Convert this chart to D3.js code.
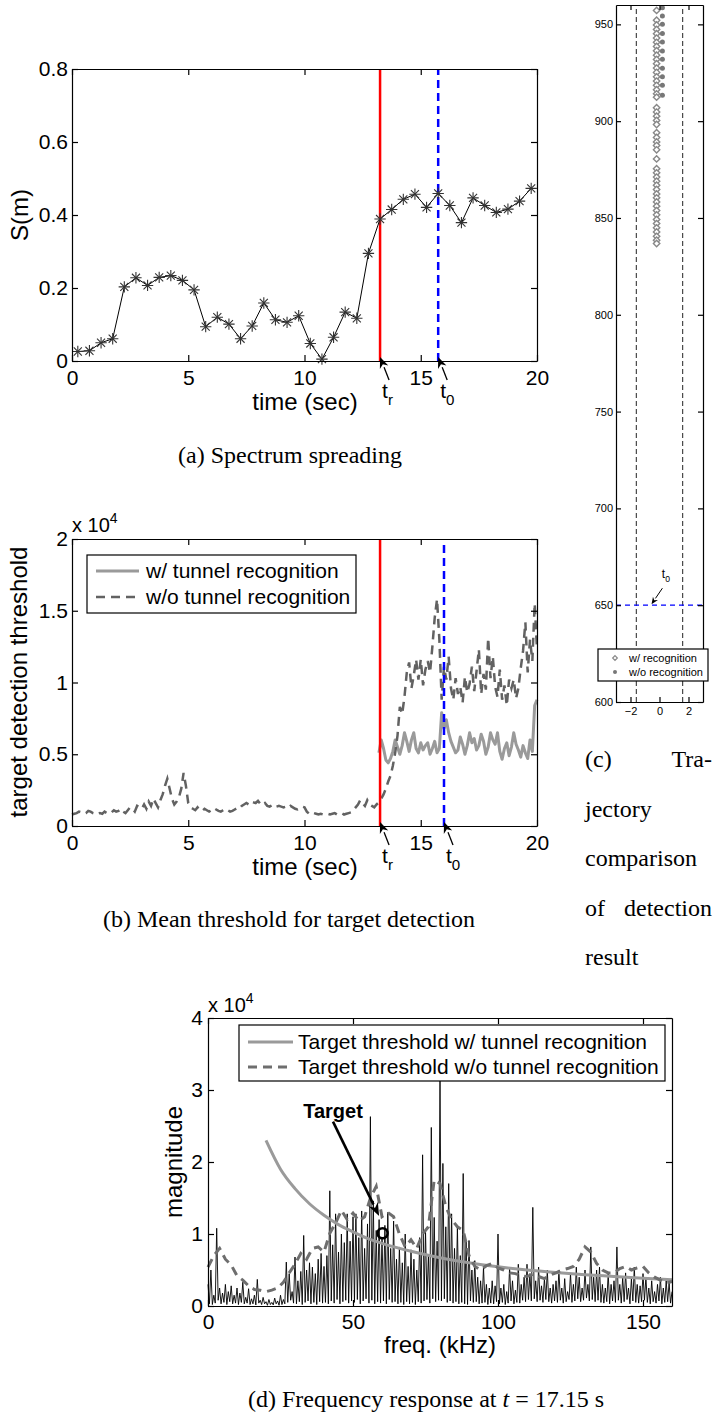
<!DOCTYPE html>
<html>
<head>
<meta charset="utf-8">
<script src="https://cdn.jsdelivr.net/npm/d3@7"></script>
<style>
  body { margin: 0; background: #fff; }
  svg { display: block; }
</style>
</head>
<body>
<div id="container"></div>
<script>
// ---------- data ----------
// (a) spectrum spreading, one sample every 0.5 s starting at 0.25 s
const aTimeStart = 0.25, aTimeStep = 0.5;
const aSpread = [0.026,0.028,0.050,0.061,0.203,0.228,0.207,0.229,0.234,0.221,
                 0.195,0.094,0.120,0.101,0.061,0.096,0.159,0.113,0.106,0.124,
                 0.048,0.005,0.065,0.134,0.117,0.295,0.389,0.415,0.443,0.457,
                 0.421,0.459,0.426,0.379,0.447,0.426,0.407,0.416,0.438,0.473];
const tRecog = 13.25;   // t_r
const tZeroA = 15.75;   // t_0 in (a)
const tZeroB = 16.0;    // t_0 in (b)

// (b) mean threshold, 0.1 s samples
const bStep = 0.1;
const bWithoutStart = 0;
const bWithout = [800,850,900,1000,950,850,900,1050,1000,900,850,
  800,900,850,1000,900,850,950,1100,1000,1050,
  1200,1000,900,1100,1300,1200,1000,1400,1300,1200,
  1500,1200,1700,1400,1900,1600,1300,1800,2200,2800,
  3300,2600,1900,1500,1700,2000,2600,3700,2800,1600,
  1300,1200,1100,1300,1100,1050,1200,1100,1000,1100,
  1250,1150,1050,1000,1100,1200,1100,1000,1050,1150,
  1250,1200,1400,1500,1600,1500,1700,1650,1600,1750,
  1550,1450,1600,1400,1350,1450,1300,1350,1400,1350,
  1300,1350,1250,1400,1300,1200,1150,1250,1350,1300,
  1000,850,800,900,850,800,850,800,800,850,
  800,850,900,800,850,900,800,850,900,950,
  1100,1300,1500,1800,1600,1400,1800,1500,1400,1300,
  1500,1650,1900,2200,2600,3100,3500,4200,5100,6300,
  8300,7800,9000,10700,11400,9600,10500,11600,10200,11600,
  9800,10900,11500,10700,12500,14500,15800,13000,8800,11100,
  10200,11800,9600,8800,10300,9200,9700,8600,10400,9300,
  9900,11100,9400,10800,12300,9200,10600,9500,13100,10300,
  11800,9700,9000,10900,8800,9800,8400,10200,9600,10200,
  8900,9600,11000,12200,14200,10700,13000,11500,15500,12300];
const bWithStart = 13.2;
const bWith = [5100,6000,5400,4600,4400,4700,5200,6000,5500,5000,
  5600,6500,5900,5200,6000,6500,5400,5100,5800,5300,
  5600,5800,5000,5400,5900,5100,5400,7900,6800,7400,
  6500,5900,5500,5100,5300,6200,5700,5000,5600,6500,
  5800,6100,5300,5600,6400,5900,5000,5500,6500,6000,
  5700,6500,5200,4650,5400,5800,4900,5500,6500,5700,
  5300,4800,5600,5100,4700,6000,5200,8400,8800];
const bLegend = ["w/ tunnel recognition", "w/o tunnel recognition"];

// (c) trajectory
const cWith = [957.2,952.1,949.7,947.4,945.2,942.9,940.7,938.6,936.4,934.1,
  931.9,929.7,927.4,925.2,922.9,920.7,918.5,916.2,914.1,912.4,
  906.9,904.7,902.6,900.4,898.3,894.0,891.6,889.3,887.4,885.2,
  880.5,875.4,873.3,871.1,869.0,866.9,864.7,862.4,860.4,858.3,
  856.1,853.8,851.6,849.2,847.1,844.9,842.8,840.5,838.5,836.8];
const cWithout = [958.6,954.3,950.0,945.3,940.9,936.3,932.0,927.3,923.0,918.5,913.4];
const cWithX = -0.2, cWithoutX = 0.2;
const cBounds = [-1.6, 1.6];
const cZero = 650;
const cLegend = ["w/ recognition", "w/o recognition"];

// (d) frequency response, spectrum peaks every 1 kHz and troughs in between
const dPeaks = [3000,5000,1500,10800,2500,1800,3000,2000,2800,1500,
  2500,1800,3300,1200,2400,1000,1500,3700,800,1200,
  600,900,500,1100,700,1500,900,6100,4500,2000,
  6800,3500,4800,9800,5000,6000,5400,4500,6500,7300,
  5500,7000,16000,8500,12800,7500,10000,8800,12800,9000,
  12400,12800,9500,13200,8000,11400,26300,14600,10500,12000,
  9500,11200,13000,8000,11800,6500,8200,6000,10000,5500,
  7800,6500,5000,9500,21000,10500,7000,24800,12300,9000,
  32000,19800,11000,17000,12800,8000,11000,7000,18400,9000,
  9100,5000,6300,4000,3500,5400,3000,2500,3500,2800,
  10000,2500,3000,2000,5400,3500,2200,5800,3000,4000,
  5800,4500,13700,3500,5400,2800,3800,5000,2500,3000,
  3500,5000,2500,3800,2000,4500,3000,5400,4000,2500,
  5000,3000,8200,4000,5000,5400,3000,2500,4500,3000,
  3500,8200,3000,4000,4600,2500,3800,5400,3000,2800,
  4500,4000,2500,3500,2000,3000,4000,2500,3500,3200,
  2000];
const dTroughs = [300,200,400,800,300,500,200,600,300,400,
  200,500,300,400,200,300,150,400,200,300,
  100,200,150,300,100,200,300,500,800,400,
  300,600,200,500,700,300,500,200,600,400,
  500,300,700,400,900,300,600,800,400,700,
  500,900,300,700,1000,400,800,300,600,400,
  700,300,900,500,600,300,500,200,600,300,
  500,200,600,400,700,900,400,1000,600,800,
  700,1000,500,700,400,600,300,500,300,200,
  700,500,600,300,400,500,200,400,300,600,
  300,500,200,400,700,300,500,400,800,600,
  900,700,1000,600,800,500,900,600,400,700,
  500,800,400,600,900,500,700,1000,600,800,
  1100,700,900,600,800,500,400,600,300,700,
  500,800,400,600,900,300,700,500,400,600,
  800,500,300,600,400,700,300,500,600,400];
const dWithF = [20,25,30,35,40,45,50,55,60,70,80,90,100,110,120,130,140,150,160];
const dWith = [23000,19000,16300,14200,12600,11300,10300,9400,8700,7600,6700,6000,5450,5000,4650,4350,4100,3850,3650];
const dWithoutStep = 2;
const dWithout = [5400,7000,8000,6500,5700,4200,3600,2800,2300,2200,
  2000,2200,2500,3300,4600,5800,7300,6500,8000,8200,
  7500,10100,11500,13300,12000,12900,11800,12400,15000,16600,
  12400,13000,12400,10000,8200,9200,8000,10000,11000,17500,
  17000,13800,12000,11000,10500,7000,5500,5000,5600,5900,
  5300,5000,4600,4500,4200,4100,4400,4100,3800,4300,
  4600,5000,5200,5500,6500,8200,7500,5900,5000,4600,
  4600,5200,5500,5000,5300,5500,4600,4000,3600,3200,
  3400];
const dTarget = [60.2, 10100];
const dArrow = [[43.1, 25600], [59.0, 12500]];
const dLabelPos = [43.1, 26100];
const dLegend = ["Target threshold w/ tunnel recognition", "Target threshold w/o tunnel recognition"];

// ---------- setup ----------
const sans = "'Liberation Sans', Arial, Helvetica, sans-serif";
const serif = "'Liberation Serif', 'Times New Roman', serif";
const svg = d3.select("#container").append("svg")
  .attr("width", 713).attr("height", 1415);
svg.append("rect").attr("width", 713).attr("height", 1415).attr("fill", "#fff");

const gray1 = "#9a9a9a", gray2 = "#626262";

function frame(x, y, xt, yt, fx, fy, fs, tick, padX, padY) {
  const [b, t] = y.range(), [l, r] = x.range();
  const gs = [
    svg.append("g").attr("transform", `translate(0,${b})`)
      .call(d3.axisBottom(x).tickValues(xt).tickFormat(fx).tickSize(-tick).tickSizeOuter(0).tickPadding(padX)),
    svg.append("g").attr("transform", `translate(0,${t})`)
      .call(d3.axisTop(x).tickValues(xt).tickFormat("").tickSize(-tick).tickSizeOuter(0)),
    svg.append("g").attr("transform", `translate(${l},0)`)
      .call(d3.axisLeft(y).tickValues(yt).tickFormat(fy).tickSize(-tick).tickSizeOuter(0).tickPadding(padY)),
    svg.append("g").attr("transform", `translate(${r},0)`)
      .call(d3.axisRight(y).tickValues(yt).tickFormat("").tickSize(-tick).tickSizeOuter(0))
  ];
  gs.forEach(g => {
    g.attr("font-family", sans).attr("font-size", fs);
    g.selectAll("path, line").attr("stroke", "#000").attr("stroke-width", 1.2);
    g.selectAll("text").attr("fill", "#000");
  });
}

function arrow(x1, y1, x2, y2, hl, hw, sw) {
  const a = Math.atan2(y2 - y1, x2 - x1);
  const bx = x2 - hl * Math.cos(a), by = y2 - hl * Math.sin(a);
  svg.append("line").attr("x1", x1).attr("y1", y1).attr("x2", bx).attr("y2", by)
    .attr("stroke", "#000").attr("stroke-width", sw);
  const px = Math.sin(a) * hw / 2, py = -Math.cos(a) * hw / 2;
  svg.append("polygon")
    .attr("points", [[x2, y2], [bx + px, by + py], [x2 - hl * 0.7 * Math.cos(a), y2 - hl * 0.7 * Math.sin(a)], [bx - px, by - py]].join(" "))
    .attr("fill", "#000");
}

function tLabel(x, y, sub, fs) {
  const t = svg.append("text").attr("x", x).attr("y", y)
    .attr("font-family", sans).attr("font-size", fs);
  t.append("tspan").text("t");
  t.append("tspan").attr("dy", fs * 0.33).attr("font-size", fs * 0.72).text(sub);
}

function yLabel(text, cx, cy, fs) {
  svg.append("text").attr("transform", `translate(${cx},${cy}) rotate(-90)`)
    .attr("text-anchor", "middle").attr("font-family", sans).attr("font-size", fs).text(text);
}

function xLabel(text, cx, y, fs) {
  svg.append("text").attr("x", cx).attr("y", y).attr("text-anchor", "middle")
    .attr("font-family", sans).attr("font-size", fs).text(text);
}

function caption(text, cx, y) {
  return svg.append("text").attr("x", cx).attr("y", y).attr("text-anchor", "middle")
    .attr("font-family", serif).attr("font-size", 24).text(text);
}

function exponent(x, y) {
  const t = svg.append("text").attr("x", x).attr("y", y).attr("font-family", sans).attr("font-size", 20);
  t.append("tspan").text("x 10");
  t.append("tspan").attr("dy", -9).attr("font-size", 14).text("4");
}

function markerLines(x, y, tR, tZ) {
  const [b, t] = y.range();
  svg.append("line").attr("x1", x(tR)).attr("x2", x(tR)).attr("y1", b).attr("y2", t)
    .attr("stroke", "#ff0000").attr("stroke-width", 2.5);
  svg.append("line").attr("x1", x(tZ)).attr("x2", x(tZ)).attr("y1", b).attr("y2", t)
    .attr("stroke", "#0000ff").attr("stroke-width", 2.5).attr("stroke-dasharray", "8,5");
}

function markerArrows(x, y, tR, tZ) {
  const b = y.range()[0];
  [[tR, "r"], [tZ, "0"]].forEach(([tv, s]) => {
    arrow(x(tv) + 9, b + 19, x(tv), b - 4, 11, 9, 1.3);
    tLabel(x(tv) + 2, b + 37, s, 21);
  });
}

// ---------- (a) ----------
const xA = d3.scaleLinear().domain([0, 20]).range([72, 537]);
const yA = d3.scaleLinear().domain([0, 0.8]).range([361, 69]);
const aPts = aSpread.map((v, i) => [aTimeStart + i * aTimeStep, v]);

markerLines(xA, yA, tRecog, tZeroA);
svg.append("path").datum(aPts)
  .attr("d", d3.line().x(d => xA(d[0])).y(d => yA(d[1])))
  .attr("fill", "none").attr("stroke", "#000").attr("stroke-width", 1);
[d3.symbolPlus, d3.symbolTimes].forEach(sym => {
  svg.append("g").selectAll("path").data(aPts).join("path")
    .attr("transform", d => `translate(${xA(d[0])},${yA(d[1])})`)
    .attr("d", d3.symbol(sym, 44))
    .attr("fill", "none").attr("stroke", "#333").attr("stroke-width", 1.1);
});
frame(xA, yA, [0, 5, 10, 15, 20], [0, 0.2, 0.4, 0.6, 0.8], d => d, d => d, 21, 6, 9, 4);
markerArrows(xA, yA, tRecog, tZeroA);
yLabel("S(m)", 28, 215, 24);
xLabel("time (sec)", 305, 410, 24);
caption("(a) Spectrum spreading", 290, 463);

// ---------- (b) ----------
const xB = d3.scaleLinear().domain([0, 20]).range([72, 537]);
const yB = d3.scaleLinear().domain([0, 20000]).range([826, 539]);
const lineB = d3.line().x(d => xB(d[0])).y(d => yB(d[1]));
const bWithPts = bWith.map((v, i) => [bWithStart + i * bStep, v]);
const bWithoutPts = bWithout.map((v, i) => [bWithoutStart + i * bStep, v]);

svg.append("path").datum(bWithPts).attr("d", lineB)
  .attr("fill", "none").attr("stroke", gray1).attr("stroke-width", 3).attr("stroke-linejoin", "round");
svg.append("path").datum(bWithoutPts).attr("d", lineB)
  .attr("fill", "none").attr("stroke", gray2).attr("stroke-width", 2.5).attr("stroke-dasharray", "9,6");
markerLines(xB, yB, tRecog, tZeroB);
frame(xB, yB, [0, 5, 10, 15, 20], [0, 5000, 10000, 15000, 20000], d => d, d => d / 10000, 21, 6, 9, 4);
markerArrows(xB, yB, tRecog, tZeroB);
exponent(72, 532);
yLabel("target detection threshold", 27, 682, 24);
xLabel("time (sec)", 305, 875, 24);
caption("(b) Mean threshold for target detection", 289, 927);

// legend (b)
svg.append("rect").attr("x", 87).attr("y", 555).attr("width", 269).attr("height", 58)
  .attr("fill", "#fff").attr("stroke", "#000").attr("stroke-width", 1.2);
[[gray1, 3, null], [gray2, 2.5, "9,6"]].forEach(([c, w, dash], i) => {
  const yy = 571 + i * 26;
  svg.append("line").attr("x1", 96).attr("x2", 139).attr("y1", yy).attr("y2", yy)
    .attr("stroke", c).attr("stroke-width", w).attr("stroke-dasharray", dash);
  svg.append("text").attr("x", 146).attr("y", yy + 7).attr("font-family", sans)
    .attr("font-size", 21).text(bLegend[i]);
});

// ---------- (c) ----------
const xC = d3.scaleLinear().domain([-3, 3]).range([616, 703]);
const yC = d3.scaleLinear().domain([600, 960]).range([702, 5]);
cBounds.forEach(b => {
  svg.append("line").attr("x1", xC(b)).attr("x2", xC(b)).attr("y1", yC(600)).attr("y2", yC(960))
    .attr("stroke", "#222").attr("stroke-width", 1).attr("stroke-dasharray", "5,3");
});
svg.append("line").attr("x1", xC(-3)).attr("x2", xC(3)).attr("y1", yC(cZero)).attr("y2", yC(cZero))
  .attr("stroke", "#0000ff").attr("stroke-width", 1.2).attr("stroke-dasharray", "5,4");
svg.append("g").selectAll("path").data(cWith).join("path")
  .attr("transform", d => `translate(${xC(cWithX)},${yC(d)})`)
  .attr("d", d3.symbol(d3.symbolDiamond2, 26))
  .attr("fill", "#fff").attr("stroke", "#888").attr("stroke-width", 1.4);
svg.append("g").selectAll("circle").data(cWithout).join("circle")
  .attr("cx", xC(cWithoutX)).attr("cy", d => yC(d)).attr("r", 2.5).attr("fill", "#777");
frame(xC, yC, [-2, 0, 2], d3.range(600, 951, 50), d => d < 0 ? "\u2212" + (-d) : d, d => d, 11, 5, 5, 3);
arrow(xC(0.2), yC(cZero) - 17, xC(-0.55), yC(cZero) - 1, 7, 6, 1);
tLabel(xC(0.3) - 2, yC(cZero) - 27, "0", 12);
// legend (c)
svg.append("rect").attr("x", 598).attr("y", 649).attr("width", 110).attr("height", 32)
  .attr("fill", "#fff").attr("stroke", "#000").attr("stroke-width", 1.2);
svg.append("path").attr("transform", "translate(615,658)")
  .attr("d", d3.symbol(d3.symbolDiamond2, 14)).attr("fill", "#fff").attr("stroke", "#888").attr("stroke-width", 1.2);
svg.append("circle").attr("cx", 615).attr("cy", 672).attr("r", 2).attr("fill", "#777");
cLegend.forEach((s, i) => {
  svg.append("text").attr("x", 629).attr("y", 662 + i * 14).attr("font-family", sans)
    .attr("font-size", 11).text(s);
});
// caption (c), justified in a narrow column
[["(c)", "Tra-"], ["jectory"], ["comparison"], ["of", "detection"], ["result"]].forEach((words, i) => {
  const yy = 767 + i * 49.5;
  svg.append("text").attr("x", 585).attr("y", yy).attr("font-family", serif).attr("font-size", 24).text(words[0]);
  if (words[1]) svg.append("text").attr("x", 712).attr("y", yy).attr("text-anchor", "end")
    .attr("font-family", serif).attr("font-size", 24).text(words[1]);
});

// ---------- (d) ----------
const xD = d3.scaleLinear().domain([0, 160]).range([208, 672]);
const yD = d3.scaleLinear().domain([0, 40000]).range([1306, 1018]);
const lineD = d3.line().x(d => xD(d[0])).y(d => yD(d[1]));
const spec = [];
dPeaks.forEach((v, i) => {
  spec.push([i, v]);
  if (i < dTroughs.length) spec.push([i + 0.5, dTroughs[i]]);
});
svg.append("path").datum(spec).attr("d", lineD)
  .attr("fill", "none").attr("stroke", "#000").attr("stroke-width", 0.9);
svg.append("path").datum(dWithF.map((f, i) => [f, dWith[i]]))
  .attr("d", d3.line().curve(d3.curveMonotoneX).x(d => xD(d[0])).y(d => yD(d[1])))
  .attr("fill", "none").attr("stroke", gray1).attr("stroke-width", 3);
svg.append("path").datum(dWithout.map((v, i) => [i * dWithoutStep, v])).attr("d", lineD)
  .attr("fill", "none").attr("stroke", "#6e6e6e").attr("stroke-width", 3).attr("stroke-dasharray", "9,6");
frame(xD, yD, [0, 50, 100, 150], [0, 10000, 20000, 30000, 40000], d => d, d => d / 10000, 21, 6, 8, 5);
svg.append("circle").attr("cx", xD(dTarget[0])).attr("cy", yD(dTarget[1])).attr("r", 5)
  .attr("fill", "none").attr("stroke", "#000").attr("stroke-width", 2.6);
arrow(xD(dArrow[0][0]), yD(dArrow[0][1]), xD(dArrow[1][0]), yD(dArrow[1][1]), 13, 10, 2.6);
svg.append("text").attr("x", xD(dLabelPos[0])).attr("y", yD(dLabelPos[1])).attr("text-anchor", "middle")
  .attr("font-family", sans).attr("font-weight", "bold").attr("font-size", 20).text("Target");
exponent(208, 1012);
yLabel("magnitude", 182, 1162, 24);
xLabel("freq. (kHz)", 440, 1353, 24);
const capD = caption("(d) Frequency response at ", 426, 1407);
capD.append("tspan").attr("font-style", "italic").text("t");
capD.append("tspan").text(" = 17.15 s");

// legend (d)
svg.append("rect").attr("x", 239).attr("y", 1025).attr("width", 426).attr("height", 56)
  .attr("fill", "#fff").attr("stroke", "#000").attr("stroke-width", 1.2);
[[gray1, 3, null], ["#6e6e6e", 3, "9,6"]].forEach(([c, w, dash], i) => {
  const yy = 1042 + i * 25;
  svg.append("line").attr("x1", 248).attr("x2", 293).attr("y1", yy).attr("y2", yy)
    .attr("stroke", c).attr("stroke-width", w).attr("stroke-dasharray", dash);
  svg.append("text").attr("x", 298).attr("y", yy + 7).attr("font-family", sans)
    .attr("font-size", 21).text(dLegend[i]);
});
</script>
</body>
</html>
